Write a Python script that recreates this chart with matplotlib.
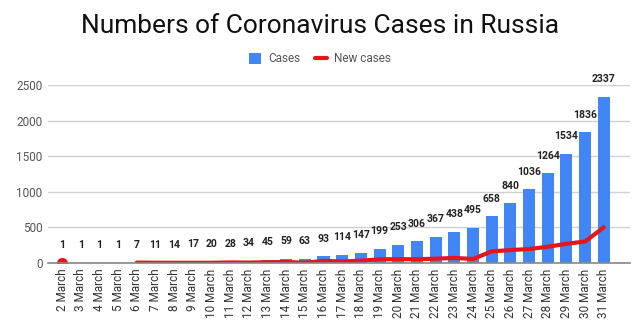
import matplotlib
matplotlib.use("Agg")
import matplotlib.pyplot as plt
import numpy as np

plt.rcParams['font.family'] = ['Roboto', 'DejaVu Sans']

dates = [f"{d} March" for d in range(2, 32)]
cases = [1, 1, 1, 1, 7, 11, 14, 17, 20, 28, 34, 45, 59, 63, 93, 114, 147, 199,
         253, 306, 367, 438, 495, 658, 840, 1036, 1264, 1534, 1836, 2337]
new_cases = [1, np.nan, np.nan, np.nan, 6, 4, 3, 3, 3, 8, 6, 11, 14, 4, 30, 21, 33,
             52, 54, 53, 61, 71, 57, 163, 182, 196, 228, 270, 302, 501]

fig = plt.figure(figsize=(6.4, 3.31), dpi=100)
ax = fig.add_axes([0.075, 0.2054, 0.909, 0.5378])

x = np.arange(len(dates))
bar_color = '#4285F4'
line_color = '#E8141B'
hb = ax.bar(x, cases, width=0.65, color=bar_color, label='Cases', zorder=2)
hl, = ax.plot(x, new_cases, color=line_color, linewidth=3, label='New cases', zorder=3,
              solid_capstyle='round')
ax.plot(x[:1], new_cases[:1], 'o', color=line_color, markersize=7, zorder=3, clip_on=True)

for xi, v in zip(x, cases):
    ax.annotate(str(v), (xi, v), xytext=(0, 9), textcoords='offset points',
                ha='center', va='bottom', fontsize=7.5, fontweight='bold',
                color='#222222', annotation_clip=False)

ax.set_xlim(-0.75, 30.39)
ax.set_ylim(0, 2500)
ax.set_yticks([0, 500, 1000, 1500, 2000, 2500])
ax.yaxis.grid(True, color='#d0d0d0', linewidth=1, zorder=0)
ax.set_axisbelow(True)
for s in ['top', 'right', 'left']:
    ax.spines[s].set_visible(False)
ax.spines['bottom'].set_color('#888888')
ax.spines['bottom'].set_linewidth(1.2)
ax.spines['bottom'].set_zorder(4)
ax.tick_params(axis='y', length=0, labelsize=8.5, labelcolor='#555555', pad=4)
ax.tick_params(axis='x', length=0, labelsize=8.5, labelcolor='#333333', pad=4)
ax.set_xticks(x)
ax.set_xticklabels(dates, rotation=90)

fig.text(0.5, 0.922, 'Numbers of Coronavirus Cases in Russia', ha='center', va='center',
         fontsize=19, color='#111111')
fig.legend(handles=[hb, hl], labels=['Cases', 'New cases'], loc='center',
           bbox_to_anchor=(0.5, 0.822), ncol=2, frameon=False,
           fontsize=8.5, labelcolor='#555555', handlelength=1.0, handleheight=1.0,
           columnspacing=1.3, handletextpad=0.6)

fig.savefig('out.png', dpi=100)
